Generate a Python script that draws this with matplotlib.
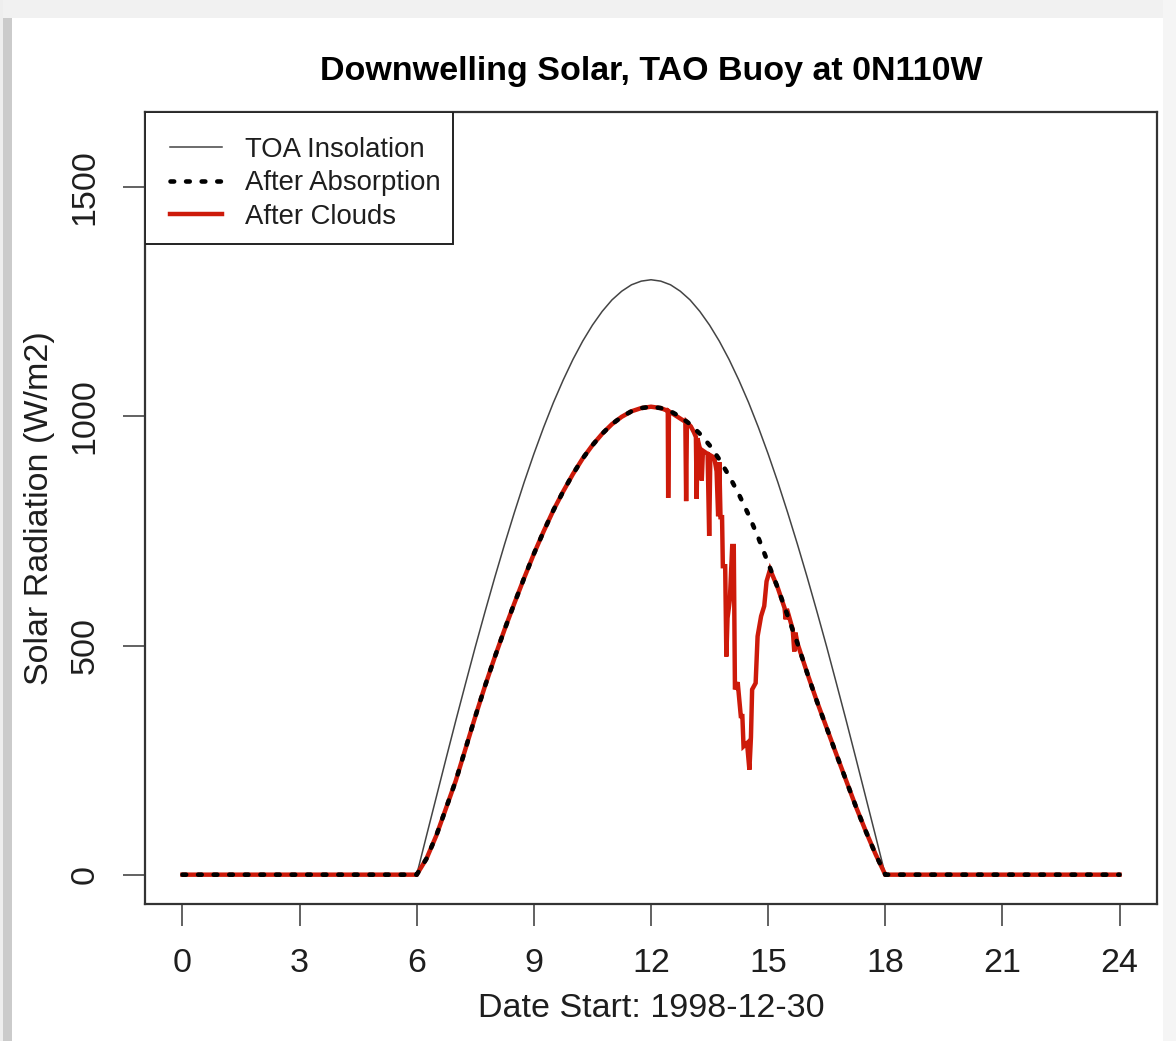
import matplotlib
matplotlib.use('Agg')
import matplotlib.pyplot as plt
from matplotlib.patches import Rectangle

plt.rcParams['font.family'] = ['Liberation Sans', 'DejaVu Sans']

# hours of the day (clear-sky curves sampled every 15 min between 6 and 18)
hours = [0, 6.0, 6.25, 6.5, 6.75, 7.0, 7.25, 7.5, 7.75, 8.0, 8.25, 8.5, 8.75,
         9.0, 9.25, 9.5, 9.75, 10.0, 10.25, 10.5, 10.75, 11.0, 11.25, 11.5, 11.75,
         12.0, 12.25, 12.5, 12.75, 13.0, 13.25, 13.5, 13.75, 14.0, 14.25, 14.5, 14.75,
         15.0, 15.25, 15.5, 15.75, 16.0, 16.25, 16.5, 16.75, 17.0, 17.25, 17.5, 17.75,
         18.0, 24]

toa = [0, 0, 85, 169, 253, 336, 417, 497, 574, 649, 721, 790, 856,
       918, 976, 1030, 1079, 1124, 1164, 1199, 1229, 1254, 1273, 1287, 1295,
       1298, 1295, 1287, 1273, 1254, 1229, 1199, 1164, 1124, 1079, 1030, 976,
       918, 856, 790, 721, 649, 574, 497, 417, 336, 253, 169, 85,
       0, 0]

absorbed = [0, 0, 35, 85, 145, 205, 275, 345, 412, 475, 535, 592, 647,
            700, 749, 795, 836, 874, 908, 937, 962, 983, 999, 1011, 1018,
            1021, 1018, 1011, 999, 983, 962, 937, 906, 870, 830, 785, 735,
            680, 625, 565, 505, 440, 378, 320, 262, 205, 148, 95, 45,
            0, 0]

# cloudy stretch of the afternoon (measured surface values)
cloud_hours = [12.40, 12.43, 12.44, 12.46, 12.88, 12.90, 12.92, 13.02, 13.10, 13.15,
               13.17, 13.19, 13.25, 13.30, 13.33, 13.45, 13.49, 13.52, 13.62, 13.68,
               13.72, 13.75, 13.78, 13.82, 13.84, 13.90, 13.93, 13.96, 14.02, 14.08,
               14.12, 14.15, 14.22, 14.30, 14.34, 14.37, 14.46, 14.52, 14.56, 14.59,
               14.68, 14.73, 14.82, 14.90, 14.96, 15.05, 15.25, 15.42, 15.45, 15.48,
               15.63, 15.67, 15.70, 15.75]
cloud_vals = [1013, 1012, 822, 1011, 988, 815, 987, 978, 965, 955,
              820, 952, 930, 860, 925, 918, 739, 915, 910, 880,
              782, 900, 780, 780, 673, 673, 476, 560, 600, 717,
              717, 404, 420, 346, 346, 280, 287, 229, 300, 404,
              418, 520, 564, 586, 640, 666, 625, 582, 557, 580,
              535, 487, 528, 505]

# after clouds = clear sky outside the cloudy window
i0 = hours.index(12.25)
i1 = hours.index(16.0)
cloud_t = hours[:i0 + 1] + cloud_hours + hours[i1:]
cloud_v = absorbed[:i0 + 1] + cloud_vals + absorbed[i1:]

fig = plt.figure(figsize=(11.76, 10.41), dpi=100)
fig.patch.set_facecolor('white')
W, H = 1176, 1041
# screenshot shadow border
fig.patches.append(Rectangle((0, 0), 12 / W, 1, transform=fig.transFigure,
                             facecolor='#cbcbcb', edgecolor='none', zorder=-5))
fig.patches.append(Rectangle((0, 0), 3 / W, 1, transform=fig.transFigure,
                             facecolor='#eeeeee', edgecolor='none', zorder=-4))
fig.patches.append(Rectangle((0, 1 - 18 / H), 1, 18 / H, transform=fig.transFigure,
                             facecolor='#f1f1f1', edgecolor='none', zorder=-5))
fig.patches.append(Rectangle((1 - 13 / W, 0), 13 / W, 1, transform=fig.transFigure,
                             facecolor='#f5f5f5', edgecolor='none', zorder=-5))

ax = fig.add_axes([145 / W, 1 - 904 / H, 1012 / W, 792 / H])

ax.plot(hours, toa, color='#444444', lw=1.1, label='TOA Insolation')
ax.plot(cloud_t, cloud_v, color='#cd1a0a', lw=3.2, label='After Clouds',
        solid_joinstyle='miter')
ax.plot(hours, absorbed, color='black', lw=3.3, linestyle=(0, (0.8, 2.6)),
        dash_capstyle='round', label='After Absorption')

ax.set_xlim(-0.96, 24.96)
ax.set_ylim(-64, 1664)
ax.set_xticks(range(0, 25, 3))
ax.set_yticks([0, 500, 1000, 1500])

txt = '#1e1e1e'
for s in ax.spines.values():
    s.set_color('#333333')
    s.set_linewidth(1.6)
ax.tick_params(axis='both', length=16, width=1.3, color='#555555',
               labelsize=24.5, labelcolor=txt, pad=16)
for lab in ax.get_yticklabels():
    lab.set_rotation(90)
    lab.set_va('center')

ax.set_title('Downwelling Solar, TAO Buoy at 0N110W', fontsize=24.5,
             fontweight='bold', color='black', pad=23)
ax.set_xlabel('Date Start: 1998-12-30', fontsize=24.5, color=txt)
ax.set_ylabel('Solar Radiation (W/m2)', fontsize=24.5, color=txt)
ax.xaxis.set_label_coords(0.5, -0.113)
ax.yaxis.set_label_coords(-0.089, 0.5)

h, l = ax.get_legend_handles_labels()
order = [0, 2, 1]
leg = ax.legend([h[i] for i in order], [l[i] for i in order], loc='upper left',
                bbox_to_anchor=(0, 1), borderaxespad=0, fontsize=19.8,
                frameon=False, handlelength=1.9, handletextpad=0.83,
                labelspacing=0.27, borderpad=0.9)
for t in leg.get_texts():
    t.set_color(txt)
# legend box
ax.add_patch(Rectangle((0, (904 - 244) / 792), (453 - 145) / 1012, 132 / 792,
                       transform=ax.transAxes, facecolor='white',
                       edgecolor='#222222', lw=1.4, zorder=4))
leg.set_zorder(5)

fig.savefig('out.png', dpi=100)
